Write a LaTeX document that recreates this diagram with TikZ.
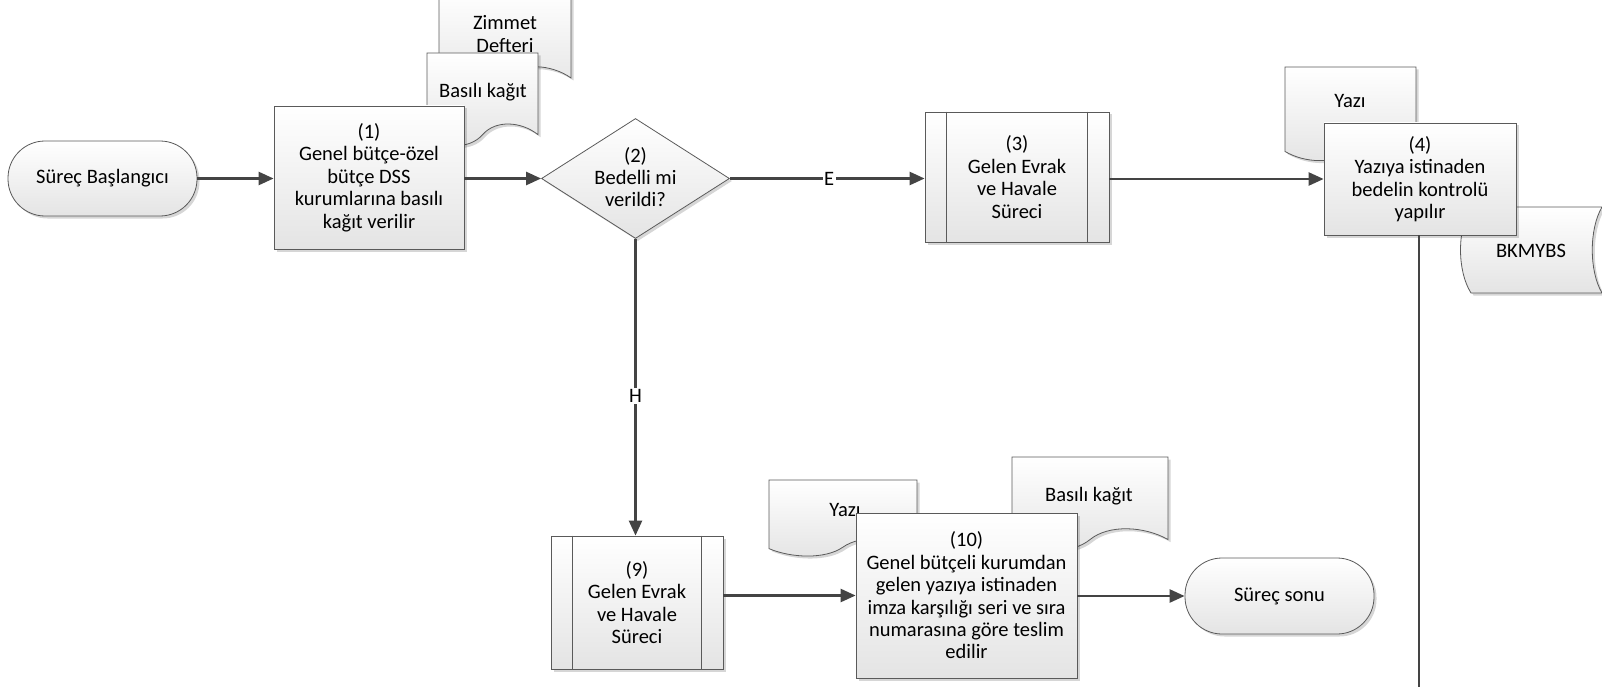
\documentclass[tikz,border=0pt]{standalone}
\usepackage{fontspec}
\setmainfont{Carlito}
\usetikzlibrary{arrows.meta,shapes.geometric,shadows}
\definecolor{edge}{HTML}{5A5A5A}
\definecolor{conn}{HTML}{444444}
\definecolor{fillbot}{HTML}{E4E4E4}
\newcommand{\txtfont}{\fontsize{20.5}{22.4}\selectfont}
\tikzset{
  base/.style={draw=edge, line width=0.8pt, top color=white, bottom color=fillbot,
    drop shadow={shadow xshift=2.5pt, shadow yshift=-2.5pt, opacity=0.16, fill=black}},
  procbox/.style={base, rectangle, inner sep=2pt, align=center, font=\txtfont},
  term/.style={base, rectangle, rounded corners=37pt, align=center, font=\txtfont},
  decision/.style={base, diamond, inner sep=0pt},
  doctext/.style={align=center, font=\txtfont, inner sep=0pt},
  arr/.style={-{Triangle[length=15pt,width=13pt]}, line width=2.5pt, draw=conn},
  plainline/.style={line width=2.5pt, draw=conn},
  lbl/.style={fill=white, inner sep=1.5pt, font=\txtfont},
  innerline/.style={draw=edge, line width=0.8pt}
}
% #1 name, #2 x, #3 y, #4 w, #5 h, #6 text x, #7 text y, #8 text
\newcommand{\mydoc}[8]{%
  \begin{scope}[shift={(#2,#3)}, x=#4pt, y=-#5pt]
    \path[base] (0,0) -- (1,0) -- (1,0.86)
      .. controls (0.85,0.72) and (0.62,0.70) .. (0.5,0.86)
      .. controls (0.38,1.02) and (0.15,1.0) .. (0,0.88) -- cycle;
  \end{scope}
  \node[doctext] (#1) at (#6,#7) {#8};
}
\begin{document}
\begin{tikzpicture}[x=1pt,y=-1pt]
\useasboundingbox (0,0) rectangle (1602,687);

% documents behind boxes (top left)
\mydoc{zimmet}{439}{-8}{132}{100}{505}{34}{Zimmet\\Defteri}
\mydoc{basili1}{427}{53}{111}{95}{483}{92}{Basılı kağıt}
% top right
\mydoc{yazi1}{1285}{67}{131}{96}{1350}{101}{Yazı}
\path[base] (1471,207) -- (1602,207)
   .. controls (1589,229) and (1589,271) .. (1602,293)
   -- (1471,293) .. controls (1457,271) and (1457,229) .. (1471,207);
\node[doctext] (bkmybs) at (1531,251) {BKMYBS};
% bottom
\mydoc{yazi2}{769}{480}{148}{78}{845}{510}{Yazı}
\mydoc{basili2}{1012}{457}{156}{96}{1089}{496}{Basılı kağıt}

% main nodes
\node[term, minimum width=189pt, minimum height=75pt] (start) at (102.5,178.5) {Süreç Başlangıcı};
\node[procbox, minimum width=190pt, minimum height=143pt] (b1) at (369,177.5)
  {(1)\\Genel bütçe-özel\\bütçe DSS\\kurumlarına basılı\\kağıt verilir};
\node[decision, minimum width=188pt, minimum height=120pt] (d2) at (635.5,178.5) {};
\node[doctext] (d2t) at (635.5,177) {(2)\\Bedelli mi\\verildi?};
\node[procbox, minimum width=184pt, minimum height=130pt] (b3) at (1017,177)
  {(3)\\Gelen Evrak\\ve Havale\\Süreci};
\draw[innerline] ([xshift=22pt]b3.north west) -- ([xshift=22pt]b3.south west);
\draw[innerline] ([xshift=-22pt]b3.north east) -- ([xshift=-22pt]b3.south east);
\node[procbox, minimum width=192pt, minimum height=112pt] (b4) at (1420,179)
  {(4)\\Yazıya istinaden\\bedelin kontrolü\\yapılır};
\node[procbox, minimum width=172pt, minimum height=133pt] (b9) at (637,602.5)
  {(9)\\Gelen Evrak\\ve Havale\\Süreci};
\draw[innerline] ([xshift=22pt]b9.north west) -- ([xshift=22pt]b9.south west);
\draw[innerline] ([xshift=-22pt]b9.north east) -- ([xshift=-22pt]b9.south east);
\node[procbox, minimum width=221pt, minimum height=165pt] (b10) at (966.5,595.5)
  {(10)\\Genel bütçeli kurumdan\\gelen yazıya istinaden\\imza karşılığı seri ve sıra\\numarasına göre teslim\\edilir};
\node[term, minimum width=189pt, minimum height=76pt] (end) at (1279.5,596) {Süreç sonu};

\coordinate (b4out) at (1419,687);

% connectors
\draw[arr] (start.east) -- (b1.west |- start.east);
\draw[arr] (b1.east |- d2.west) -- (d2.west);
\draw[arr] (d2.east) -- node[lbl, pos=0.51] (le) {E} (b3.west |- d2.east);
\draw[arr] (b3.east |- b4.west) -- (b4.west);
\draw[plainline] (b4.south -| b4out) -- (b4out);
\draw[arr] (d2.south) -- node[lbl, pos=0.53] (lh) {H} (b9.north -| d2.south);
\draw[arr] (b9.east |- b10.west) -- (b10.west);
\draw[arr] (b10.east |- end.west) -- (end.west);
\end{tikzpicture}
\end{document}
